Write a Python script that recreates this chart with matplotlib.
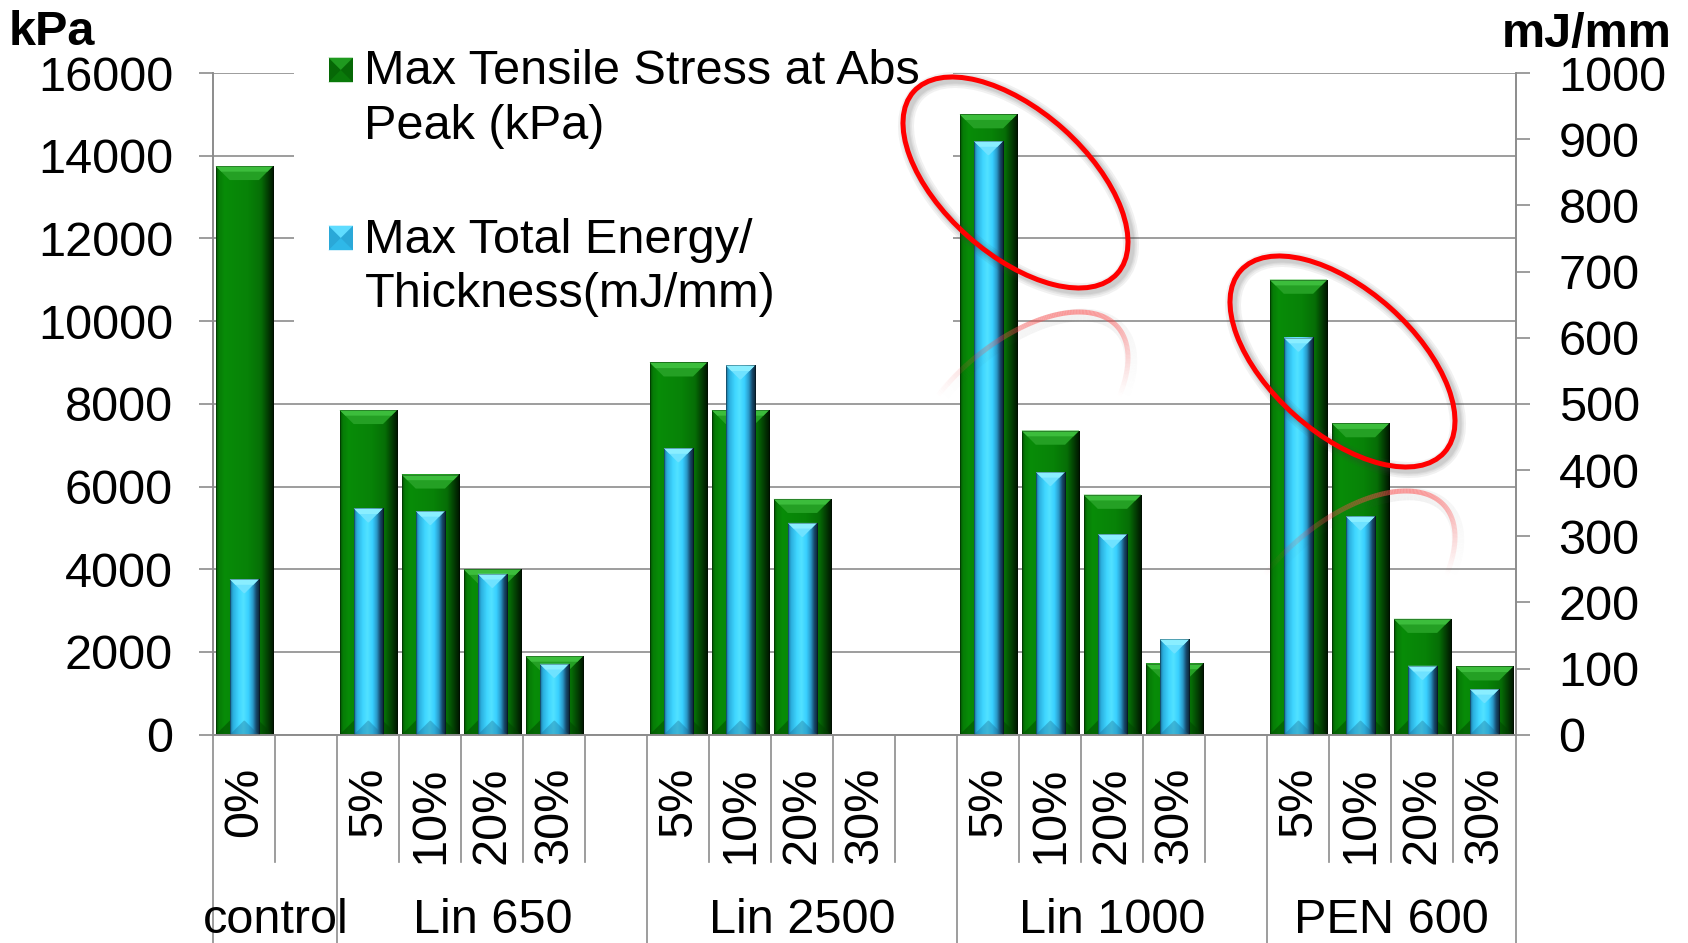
import numpy as np
import matplotlib
matplotlib.use("Agg")
import matplotlib.pyplot as plt
from matplotlib.patches import Rectangle, Polygon, Ellipse
from matplotlib.collections import LineCollection
from matplotlib.colors import LinearSegmentedColormap
from matplotlib.lines import Line2D
import matplotlib.transforms as mtransforms

plt.rcParams['font.family'] = ['Liberation Sans', 'DejaVu Sans']

# ---------------- data ----------------
groups = ["control", "Lin 650", "Lin 2500", "Lin 1000", "PEN 600"]
group_sizes = [2, 5, 5, 5, 4]
sub_labels = ["0%", "",
              "5%", "10%", "20%", "30%", "",
              "5%", "10%", "20%", "30%", "",
              "5%", "10%", "20%", "30%", "",
              "5%", "10%", "20%", "30%"]
tensile_kpa = [13750, np.nan,
               7850, 6290, 4000, 1900, np.nan,
               9000, 7850, 5700, np.nan, np.nan,
               15000, 7350, 5800, 1720, np.nan,
               11000, 7530, 2800, 1650]
energy_mj = [235, np.nan,
             342, 338, 243, 107, np.nan,
             433, 558, 320, np.nan, np.nan,
             897, 397, 303, 144, np.nan,
             600, 330, 104, 69]
series_names = ["Max Tensile Stress at Abs\nPeak (kPa)",
                "Max Total Energy/\nThickness(mJ/mm)"]
left_ticks = list(range(0, 16001, 2000))
right_ticks = list(range(0, 1001, 100))
left_unit = "kPa"
right_unit = "mJ/mm"

# ---------------- figure ----------------
W_PX, H_PX = 1688, 943
fig = plt.figure(figsize=(W_PX / 100, H_PX / 100), dpi=100)
fig.patch.set_facecolor('white')

ax_l, ax_r, ax_t, ax_b = 213.3, 1515.5, 73.0, 734.7
ax = fig.add_axes([ax_l / W_PX, 1 - ax_b / H_PX, (ax_r - ax_l) / W_PX, (ax_b - ax_t) / H_PX])
ax2 = ax.twinx()

GREY = '#8c8c8c'
FS = 35
n = len(sub_labels)
x = np.arange(n)

ax.set_xlim(-0.5, n - 0.5)
ax.set_ylim(0, left_ticks[-1])
ax2.set_ylim(0, right_ticks[-1])
ax.set_autoscale_on(False)
ax2.set_autoscale_on(False)

ax.yaxis.grid(True, color=GREY, lw=1.2)
ax.set_axisbelow(True)
ax.set_xticks([])
ax2.set_xticks([])

for a in (ax, ax2):
    a.spines['top'].set_visible(False)
    for s in ('left', 'right', 'bottom'):
        a.spines[s].set_color(GREY)
        a.spines[s].set_linewidth(1.2)

ax.set_yticks(left_ticks, labels=[str(v) for v in left_ticks])
ax2.set_yticks(right_ticks, labels=[str(v) for v in right_ticks])
ax.tick_params(axis='y', direction='out', length=10, width=1.2, color=GREY,
               labelsize=FS, pad=19)
ax2.tick_params(axis='y', direction='out', length=10, width=1.2, color=GREY,
                labelsize=FS, pad=21)

# bars
gbars = ax.bar(x, tensile_kpa, width=0.924, color='#078207', zorder=2, linewidth=0)
bbars = ax2.bar(x, energy_mj, width=0.468, color='#3ad0ff', zorder=2, linewidth=0)

green_cmap = LinearSegmentedColormap.from_list('g', [
    (0.0, '#034f03'), (0.05, '#067c06'), (0.15, '#088c08'), (0.55, '#078207'),
    (0.78, '#066e06'), (0.9, '#033c03'), (1.0, '#001200')])
blue_cmap = LinearSegmentedColormap.from_list('b', [
    (0.0, '#1c6890'), (0.1, '#2aaede'), (0.3, '#3fd6ff'), (0.45, '#52e2ff'),
    (0.62, '#38cfff'), (0.76, '#2a9bcb'), (0.88, '#17486a'), (1.0, '#0b2030')])


def shade(axis, patch, cmap, top_col, top_col2, bot_col, bevel_px=14):
    h = patch.get_height()
    if not np.isfinite(h) or h <= 0:
        return
    x0 = patch.get_x()
    w = patch.get_width()
    grad = np.linspace(0, 1, 256).reshape(1, -1)
    axis.imshow(grad, cmap=cmap, extent=(x0, x0 + w, 0, h), aspect='auto',
                zorder=2.1, interpolation='bilinear', origin='lower')
    T = axis.transData
    (X0, Y0), (X1, Y1) = T.transform([(x0, 0), (x0 + w, h)])
    d = min(bevel_px, (X1 - X0) / 2, (Y1 - Y0) / 2)
    inv = T.inverted()
    top = inv.transform([(X0, Y1), (X1, Y1), (X1 - d, Y1 - d), (X0 + d, Y1 - d)])
    axis.add_patch(Polygon(top, closed=True, facecolor=top_col, edgecolor='none', zorder=2.2))
    top2 = inv.transform([(X0, Y1), (X1, Y1), (X1 - d * 0.4, Y1 - d * 0.4), (X0 + d * 0.4, Y1 - d * 0.4)])
    axis.add_patch(Polygon(top2, closed=True, facecolor=top_col2, edgecolor='none', zorder=2.25))
    bot = inv.transform([(X0, Y0), (X1, Y0), (X1 - d, Y0 + d), (X0 + d, Y0 + d)])
    axis.add_patch(Polygon(bot, closed=True, facecolor=bot_col, edgecolor='none', zorder=2.2))
    axis.add_patch(Rectangle((x0, 0), w, h, facecolor='none', edgecolor=(0, 0, 0, 0.35),
                             linewidth=0.6, zorder=2.3))


for p in gbars:
    shade(ax, p, green_cmap, '#24a024', '#3cbd3c', (0.0, 0.25, 0.0, 0.45))
for p in bbars:
    shade(ax2, p, blue_cmap, '#6fe2ff', '#8aeeff', (0.1, 0.4, 0.55, 0.35))

ax.set_xlim(-0.5, n - 0.5)
ax.set_ylim(0, left_ticks[-1])
ax2.set_ylim(0, right_ticks[-1])

# ---------------- category axis (two levels) ----------------
blend = mtransforms.blended_transform_factory(ax.transData, ax.transAxes)
axh = ax_b - ax_t
short_end = -(861.7 - ax_b) / axh
long_end = -(H_PX + 5 - ax_b) / axh
lab_top = -(767 - ax_b) / axh
grp_base = -(933 - ax_b) / axh

starts = np.concatenate([[0], np.cumsum(group_sizes)])
for b in range(n + 1):
    y_end = long_end if b in starts else short_end
    ax.add_line(Line2D([b - 0.5, b - 0.5], [0, y_end], transform=blend, color=GREY,
                       lw=1.2, clip_on=False, zorder=1))

for i, lab in enumerate(sub_labels):
    if lab:
        ax.text(i, lab_top, lab, transform=blend, rotation=90, ha='center', va='top',
                fontsize=FS, clip_on=False)

for g, s0, s1 in zip(groups, starts[:-1], starts[1:]):
    ax.text((s0 + s1 - 1) / 2, grp_base, g, transform=blend, ha='center', va='baseline',
            fontsize=FS, clip_on=False)

# axis unit titles
fig.text(9 / W_PX, 1 - 45 / H_PX, left_unit, fontsize=FS, fontweight='bold',
         ha='left', va='baseline')
fig.text(1672 / W_PX, 1 - 47 / H_PX, right_unit, fontsize=FS, fontweight='bold',
         ha='right', va='baseline')

# ---------------- legend ----------------
def fx(px):
    return px / W_PX


def fy(py):
    return 1 - py / H_PX


fig.add_artist(Rectangle((fx(294), fy(345)), fx(953) - fx(294), fy(43) - fy(345),
                         transform=fig.transFigure, facecolor='white', edgecolor='none', zorder=1))

inch = fig.dpi_scale_trans


def pin(xp, yp):
    return (xp / 100, (H_PX - yp) / 100)


def legend_marker(x0, y0, size, base, light, dark):
    fig.add_artist(Rectangle(pin(x0, y0 + size), size / 100, size / 100, transform=inch,
                             facecolor=base, edgecolor='none', zorder=2))
    c = size / 2
    fig.add_artist(Polygon([pin(x0, y0), pin(x0 + size, y0), pin(x0 + c, y0 + c)],
                           closed=True, transform=inch, facecolor=light, edgecolor='none', zorder=2.1))
    fig.add_artist(Polygon([pin(x0, y0 + size), pin(x0 + size, y0 + size), pin(x0 + c, y0 + c)],
                           closed=True, transform=inch, facecolor=dark, edgecolor='none', zorder=2.1))


legend_marker(328.5, 57.7, 24.5, '#066806', '#1f9a1f', '#0a7a0a')
legend_marker(328.5, 225.7, 24.5, '#2aa8d8', '#5fdcff', '#2fb8e8')

line_bases = [(84, 139), (252.7, 307)]
for name, bases in zip(series_names, line_bases):
    for line, yb in zip(name.split('\n'), bases):
        fig.text(fx(364.5), fy(yb), line, fontsize=FS, ha='left', va='baseline', zorder=3)

# ---------------- red ellipse annotations ----------------
def ring(cx, cy, a, b, ang_deg):
    t = np.linspace(0, 2 * np.pi, 400)
    th = np.deg2rad(ang_deg)
    xs = cx + a * np.cos(t) * np.cos(th) - b * np.sin(t) * np.sin(th)
    ys = cy + a * np.cos(t) * np.sin(th) + b * np.sin(t) * np.cos(th)
    return xs, ys


for cx, cy in [(1015.5, 182.5), (1342.5, 361.5)]:
    a_px, b_px, ang = 136.5, 71.8, 41.75
    for lw in [16, 12, 9, 7]:
        fig.add_artist(Ellipse(pin(cx + 3, cy + 3), 2 * a_px / 100, 2 * b_px / 100, angle=-ang,
                               transform=inch, facecolor='none',
                               edgecolor=(0.25, 0.25, 0.25, 0.07), linewidth=lw * 0.72, zorder=4))
    fig.add_artist(Ellipse(pin(cx, cy), 2 * a_px / 100, 2 * b_px / 100, angle=-ang,
                           transform=inch, facecolor='none', edgecolor='#ff0000',
                           linewidth=3.6, zorder=5))
    bottom = cy + np.sqrt((a_px * np.sin(np.deg2rad(ang))) ** 2 + (b_px * np.cos(np.deg2rad(ang))) ** 2)
    mirror = bottom + 12
    rcy = 2 * mirror - cy
    xs, ys = ring(cx, rcy, a_px, b_px, -ang)
    top = ys.min()
    pts = np.column_stack([xs / 100, (H_PX - ys) / 100])
    segs = np.stack([pts[:-1], pts[1:]], axis=1)
    ymid = (ys[:-1] + ys[1:]) / 2
    alpha = np.clip(1 - (ymid - top) / 85, 0, 1) ** 1.3 * 0.55
    cols = [(1.0, 0.3, 0.3, al) for al in alpha]
    fig.add_artist(LineCollection(segs, colors=cols, linewidths=3.6, transform=inch, zorder=4.5))
    cols_s = [(0.3, 0.3, 0.3, al * 0.12) for al in alpha]
    fig.add_artist(LineCollection(segs + np.array([0.03, -0.03]), colors=cols_s, linewidths=9,
                                  transform=inch, zorder=4.4))

fig.savefig('out.png', dpi=100, facecolor='white')
